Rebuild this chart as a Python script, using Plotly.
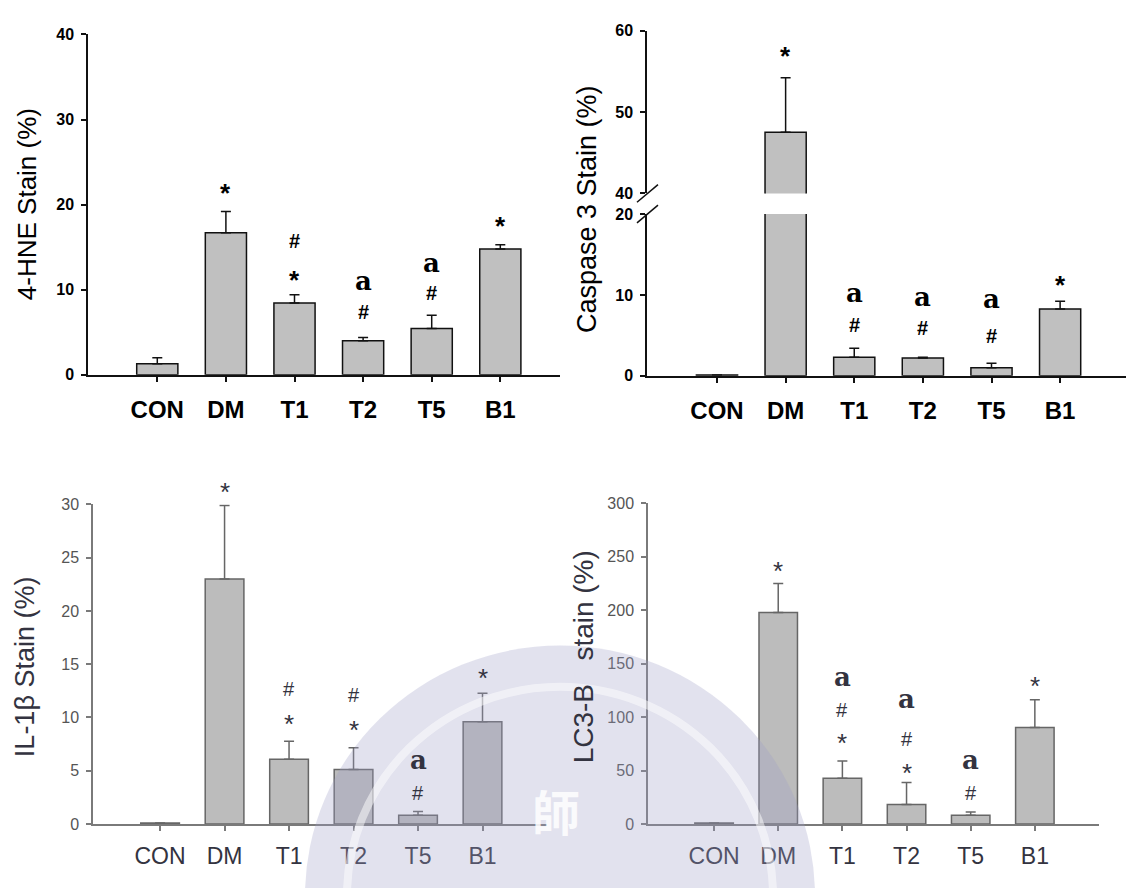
import plotly.graph_objects as go

categories = ["CON", "DM", "T1", "T2", "T5", "B1"]

# 4-HNE stain (%)
hne_mean = [1.3, 16.7, 8.45, 4.0, 5.45, 14.8]
hne_err = [0.7, 2.5, 0.95, 0.4, 1.55, 0.5]

# Caspase 3 stain (%)
casp_mean = [0.1, 47.5, 2.3, 2.2, 1.0, 8.25]
casp_err = [0.0, 6.7, 1.1, 0.1, 0.55, 0.95]

# IL-1beta stain (%)
il1b_mean = [0.1, 23.0, 6.08, 5.13, 0.83, 9.61]
il1b_err = [0.0, 6.9, 1.69, 2.02, 0.34, 2.67]

# LC3-B stain (%)
lc3_mean = [1.0, 198.0, 42.9, 18.4, 8.3, 90.3]
lc3_err = [0.0, 27.0, 16.2, 20.5, 3.0, 26.0]

# significance marks: (category, symbol, height in data units)
hne_marks = [("DM", "*", 21.7), ("T1", "#", 15.4), ("T1", "*", 11.5),
             ("T2", "a", 10.8), ("T2", "#", 7.0), ("T5", "a", 12.9),
             ("T5", "#", 9.3), ("B1", "*", 17.9)]
casp_marks = [("DM", "*", 57.2), ("T1", "a", 10.0), ("T1", "#", 5.9),
              ("T2", "a", 9.5), ("T2", "#", 5.5), ("T5", "a", 9.3),
              ("T5", "#", 4.6), ("B1", "*", 11.6)]
il1b_marks = [("DM", "*", 31.8), ("T1", "#", 12.7), ("T1", "*", 10.0),
              ("T2", "#", 12.1), ("T2", "*", 9.5), ("T5", "a", 5.8),
              ("T5", "#", 2.9), ("B1", "*", 14.4)]
lc3_marks = [("DM", "*", 243), ("T1", "a", 136), ("T1", "#", 107), ("T1", "*", 82),
             ("T2", "a", 115), ("T2", "#", 80), ("T2", "*", 54),
             ("T5", "a", 58), ("T5", "#", 29), ("B1", "*", 136)]

W, H = 1126, 888
FONT = "Liberation Sans, Arial, sans-serif"
SERIF = "DejaVu Serif, Liberation Serif, serif"


def px(x):
    return x / W


def py(y):
    return 1 - y / H


fig = go.Figure()


def add_bars(xa, ya, means, errs, fill, line, errcolor):
    fig.add_trace(go.Bar(
        x=categories, y=means, xaxis=xa, yaxis=ya, width=0.6,
        marker=dict(color=fill, line=dict(color=line, width=1.5)),
        error_y=dict(type="data", symmetric=False, array=errs,
                     arrayminus=[0] * len(errs), color=errcolor,
                     thickness=1.5, width=5),
        showlegend=False, hoverinfo="skip"))


TOP_FILL, TOP_LINE = "#c0c0c0", "#111111"
BOT_FILL, BOT_LINE = "#bcbcbc", "#666666"

add_bars("x", "y", hne_mean, hne_err, TOP_FILL, TOP_LINE, "#111111")
add_bars("x2", "y2", casp_mean, casp_err, TOP_FILL, TOP_LINE, "#111111")
add_bars("x2", "y3", casp_mean, casp_err, TOP_FILL, TOP_LINE, "#111111")
add_bars("x3", "y4", il1b_mean, il1b_err, BOT_FILL, BOT_LINE, "#666666")
add_bars("x4", "y5", lc3_mean, lc3_err, BOT_FILL, BOT_LINE, "#666666")


def xax(dom, rng, anchor, top=True):
    color = "#111111" if top else "#7a7a7a"
    return dict(domain=dom, range=rng, anchor=anchor, type="category",
                showline=True, linecolor=color, linewidth=1.5,
                ticks="outside", ticklen=5, tickcolor=color, tickwidth=1.5,
                tickvals=categories, showgrid=False, zeroline=False,
                ticklabelstandoff=8 if top else 6,
                tickfont=dict(family=FONT, size=24 if top else 23,
                              color="#000000" if top else "#333340",
                              weight="bold" if top else "normal"))


def yax(dom, rng, anchor, tickvals, top=True):
    color = "#111111" if top else "#7a7a7a"
    return dict(domain=dom, range=rng, anchor=anchor, tickvals=tickvals,
                showline=True, linecolor=color, linewidth=1.5,
                ticks="outside", ticklen=5, tickcolor=color, tickwidth=1.5,
                showgrid=False, zeroline=False, ticklabelstandoff=4,
                tickfont=dict(family=FONT, size=16,
                              color="#000000" if top else "#555555",
                              weight="bold" if top else "normal"))


fig.update_layout(
    width=W, height=H, margin=dict(l=0, r=0, t=0, b=0),
    paper_bgcolor="white", plot_bgcolor="rgba(0,0,0,0)",
    bargap=0.4, showlegend=False,
    xaxis=xax([px(88), px(560)], [-1.01, 5.87], "y"),
    yaxis=yax([py(374), py(27)], [0, 40], "x", [0, 10, 20, 30, 40]),
    xaxis2=xax([px(647), px(1126)], [-1.02, 5.96], "y2"),
    yaxis2=yax([py(375), py(210)], [0, 20], "x2", [0, 10, 20]),
    yaxis3=yax([py(189), py(23)], [40, 60], "x2", [40, 50, 60]),
    xaxis3=xax([px(93), px(547)], [-1.04, 6.0], "y4", top=False),
    yaxis4=yax([py(832), py(506)], [0, 30], "x3", [0, 5, 10, 15, 20, 25, 30], top=False),
    xaxis4=xax([px(648), px(1099)], [-1.03, 6.0], "y5", top=False),
    yaxis5=yax([py(832), py(505)], [0, 300], "x4", [0, 50, 100, 150, 200, 250, 300], top=False),
)

# axis break marks on the Caspase 3 axis
for yb in (189, 210):
    fig.add_shape(type="line", xref="paper", yref="paper",
                  x0=px(637), y0=py(yb + 9), x1=px(658), y1=py(yb - 9),
                  line=dict(color="#111111", width=1.5))

# faint university watermark (semi-transparent overlay)
cx, cy, r = 560, 905, 255
fig.add_shape(type="circle", xref="paper", yref="paper", layer="above",
              x0=px(cx - r), y0=py(cy + r), x1=px(cx + r), y1=py(cy - r),
              fillcolor="rgba(160,160,200,0.30)", line=dict(width=0))
r2 = 213
fig.add_shape(type="circle", xref="paper", yref="paper", layer="above",
              x0=px(cx - r2), y0=py(cy + r2), x1=px(cx + r2), y1=py(cy - r2),
              fillcolor="rgba(0,0,0,0)", opacity=0.5,
              line=dict(color="white", width=8))
fig.add_annotation(x=px(556), y=py(855), xref="paper", yref="paper", text="師",
                   showarrow=False, font=dict(family="Noto Sans CJK TC", size=48,
                                              weight="bold",
                                              color="rgba(255,255,255,0.85)"))


def add_marks(marks, xa, ya, rng, dom_px, top=True):
    lo, hi = rng
    ppu = (dom_px[0] - dom_px[1]) / (hi - lo)
    for cat, sym, v in marks:
        yv = min(v, hi)
        extra = (v - yv) * ppu
        if sym == "*":
            f = dict(family=FONT, size=26, weight="bold" if top else "normal")
            shift = -3 if top else -7
        elif sym == "#":
            f = dict(family=FONT, size=20, weight="bold" if top else "normal")
            shift = 3 if top else 0
        else:
            f = dict(family=SERIF, size=26, weight="bold")
            shift = 2
        f["color"] = "#000000" if top else "#333340"
        fig.add_annotation(x=cat, y=yv, xref=xa, yref=ya, text=sym,
                           showarrow=False, font=f, yanchor="middle",
                           yshift=shift + extra)


add_marks(hne_marks, "x", "y", (0, 40), (374, 27))
add_marks([m for m in casp_marks if m[2] < 20], "x2", "y2", (0, 20), (375, 210))
add_marks([m for m in casp_marks if m[2] >= 40], "x2", "y3", (40, 60), (189, 23))
add_marks(il1b_marks, "x3", "y4", (0, 30), (832, 506), top=False)
add_marks(lc3_marks, "x4", "y5", (0, 300), (832, 505), top=False)

# y-axis titles
titles = [
    ("4-HNE Stain (%)", 27, 200, 26, "#000000"),
    ("Caspase 3 Stain (%)", 587, 205, 27, "#000000"),
    ("IL-1\u03b2 Stain (%)", 25, 672, 27, "#333340"),
    ("LC3-B\u00a0\u00a0 stain (%)", 583, 662, 28, "#333340"),
]
for text, x, y, size, color in titles:
    fig.add_annotation(x=px(x), y=py(y), xref="paper", yref="paper", text=text,
                       textangle=-90, showarrow=False, xanchor="center", yanchor="middle",
                       font=dict(family=FONT, size=size, color=color))

fig.write_html("out.html")
